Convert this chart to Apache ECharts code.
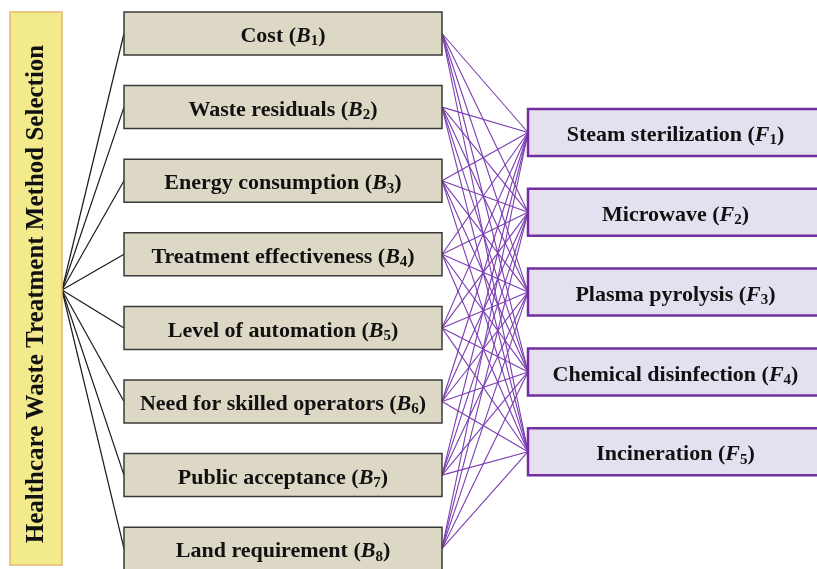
<!DOCTYPE html>
<html>
<head>
<meta charset="utf-8">
<script src="https://cdn.jsdelivr.net/npm/echarts@6/dist/echarts.min.js"></script>
<style>
  html, body { margin: 0; background: #fff; }
  #main { width: 817px; height: 569px; }
</style>
</head>
<body>
<div id="main"></div>
<script>
// goal / criteria / alternatives
const title = 'Healthcare Waste Treatment Method Selection'
const criteria = ['Cost', 'Waste residuals', 'Energy consumption', 'Treatment effectiveness',
  'Level of automation', 'Need for skilled operators', 'Public acceptance', 'Land requirement']
const criteriaCode = 'B'
const alternatives = ['Steam sterilization', 'Microwave', 'Plasma pyrolysis', 'Chemical disinfection', 'Incineration']
const altCode = 'F'

// layout in px (axes below are 1:1 with the canvas)
const W = 817, H = 569
const rootBox = { x0: 10, x1: 62, y0: 12, y1: 565 }
const hub = [62, 290]
const bBox = { x0: 124, x1: 442, top: 12, step: 73.6, h: 43 }
const fBox = { x0: 528, x1: 823, top: 109, step: 79.8, h: 47 }
const bMid = i => bBox.top + i * bBox.step + bBox.h / 2
const fMid = j => fBox.top + j * fBox.step + fBox.h / 2

const serif = '"Liberation Serif", "Times New Roman", serif'
const rich = {
  c: { fontFamily: serif, fontWeight: 'bold', fontStyle: 'italic', fontSize: 22, fill: '#111' },
  s: { fontFamily: serif, fontWeight: 'bold', fontSize: 15, fill: '#111', padding: [10, 0, 0, 0] }
}
const label = (name, code, k) => `${name} ({c|${code}}{s|${k + 1}})`

const links = []
criteria.forEach((c, i) => alternatives.forEach((a, j) => links.push([i, j])))

const chart = echarts.init(document.getElementById('main'))

const boxItem = (api, box, k, fill, stroke, lw, text, code) => {
  const y0 = box.top + k * box.step
  const p0 = api.coord([box.x0, y0]), p1 = api.coord([box.x1, y0 + box.h])
  return {
    type: 'group',
    children: [
      { type: 'rect', shape: { x: p0[0], y: p0[1], width: p1[0] - p0[0], height: p1[1] - p0[1] },
        style: { fill: fill, stroke: stroke, lineWidth: lw } },
      { type: 'text', style: {
          text: label(text, code, k), rich: rich,
          x: (p0[0] + p1[0]) / 2, y: (p0[1] + p1[1]) / 2 + 3,
          align: 'center', verticalAlign: 'middle',
          fontFamily: serif, fontWeight: 'bold', fontSize: 22, fill: '#111'
        } }
    ]
  }
}

chart.setOption({
  animation: false,
  grid: { left: 0, right: 0, top: 0, bottom: 0 },
  xAxis: { type: 'value', min: 0, max: W, show: false },
  yAxis: { type: 'value', min: 0, max: H, inverse: true, show: false },
  series: [
    {
      // goal box
      type: 'custom', z: 2, clip: false,
      data: [[0]],
      renderItem: (params, api) => {
        const p0 = api.coord([rootBox.x0, rootBox.y0]), p1 = api.coord([rootBox.x1, rootBox.y1])
        return {
          type: 'group',
          children: [
            { type: 'rect', shape: { x: p0[0], y: p0[1], width: p1[0] - p0[0], height: p1[1] - p0[1] },
              style: { fill: '#f3ea8c', stroke: '#e2b86e', lineWidth: 1.5 } },
            { type: 'text', x: (p0[0] + p1[0]) / 2 + 1, y: 294, rotation: Math.PI / 2,
              style: { text: title, align: 'center', verticalAlign: 'middle',
                fontFamily: serif, fontWeight: 'bold', fontSize: 25, fill: '#111' } }
          ]
        }
      }
    },
    {
      // goal -> criteria
      type: 'custom', z: 1, clip: false,
      data: criteria.map((c, i) => [i]),
      renderItem: (params, api) => {
        const i = api.value(0)
        const a = api.coord(hub), b = api.coord([bBox.x0, bMid(i)])
        return { type: 'line', shape: { x1: a[0], y1: a[1], x2: b[0], y2: b[1] },
          style: { stroke: '#1a1a1a', lineWidth: 1.2 } }
      }
    },
    {
      // criteria -> alternatives
      type: 'custom', z: 1, clip: false,
      data: links,
      renderItem: (params, api) => {
        const i = api.value(0), j = api.value(1)
        const a = api.coord([bBox.x1, bMid(i)]), b = api.coord([fBox.x0, fMid(j)])
        return { type: 'line', shape: { x1: a[0], y1: a[1], x2: b[0], y2: b[1] },
          style: { stroke: '#7a3cb0', lineWidth: 1.1 } }
      }
    },
    {
      type: 'custom', z: 2, clip: false,
      data: criteria.map((c, i) => [i]),
      renderItem: (params, api) => {
        const i = api.value(0)
        return boxItem(api, bBox, i, '#ddd8c5', '#3a3a3a', 1.5, criteria[i], criteriaCode)
      }
    },
    {
      type: 'custom', z: 2, clip: false,
      data: alternatives.map((a, j) => [j]),
      renderItem: (params, api) => {
        const j = api.value(0)
        return boxItem(api, fBox, j, '#e5e0ef', '#7030a0', 2.5, alternatives[j], altCode)
      }
    }
  ]
})
</script>
</body>
</html>
